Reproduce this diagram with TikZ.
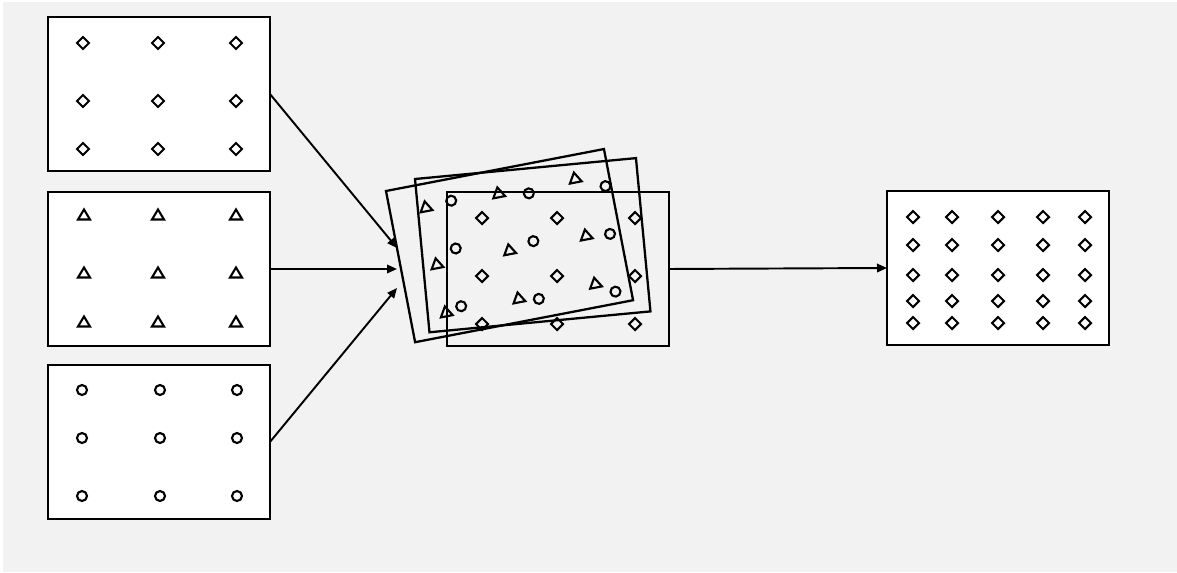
\documentclass[tikz,border=0pt]{standalone}
\usetikzlibrary{arrows.meta}
\definecolor{bg}{HTML}{F2F2F2}
\begin{document}
\begin{tikzpicture}[x=0.02cm, y=-0.02cm,
        panel/.style={draw, line width=1.3pt, minimum width=4.44cm, minimum height=3.08cm, inner sep=0pt, outer sep=0pt, anchor=north west},
        sym/.style={line width=1.2pt},
        arr/.style={-{Triangle[length=2mm,width=1.7mm]}, line width=1.1pt},
        dia/.pic={\draw[sym] (-6,0) -- (0,-6) -- (6,0) -- (0,6) -- cycle;},
        tri/.pic={\draw[sym] (-6,4.5) -- (6,4.5) -- (0,-5.5) -- cycle;},
        ring/.pic={\draw[sym] (0,0) circle[radius=5];}]
        \useasboundingbox (0,0) rectangle (1177,572);
        \fill[bg] (3,2) rectangle (1177,572);
        % the three inputs
        \begin{scope}[shift={(48,17)}]
            \node[panel, fill=white] (dias) at (0,0) {};
            \foreach \x in {35,110,188} \foreach \y in {26,84,132} \pic at (\x,\y) {dia};
        \end{scope}
        \begin{scope}[shift={(48,192)}]
            \node[panel, fill=white] (tris) at (0,0) {};
            \foreach \x in {36,110,188} \foreach \y in {23,81,130} \pic at (\x,\y) {tri};
        \end{scope}
        \begin{scope}[shift={(48,365)}]
            \node[panel, fill=white] (rings) at (0,0) {};
            \foreach \x in {34,112,189} \foreach \y in {25,73,131} \pic at (\x,\y) {ring};
        \end{scope}
        % stacked copies
        \begin{scope}[shift={(386,191)}, rotate=10.9, transform shape]
            \node[panel] (tris2) at (0,0) {};
            \foreach \x in {36,110,188} \foreach \y in {23,81,130} \pic at (\x,\y) {tri};
        \end{scope}
        \begin{scope}[shift={(415,179)}, rotate=5.4, transform shape]
            \node[panel] (rings2) at (0,0) {};
            \foreach \x in {34,112,189} \foreach \y in {25,73,131} \pic at (\x,\y) {ring};
        \end{scope}
        \begin{scope}[shift={(447,192)}]
            \node[panel] (mix) at (0,0) {};
            \foreach \x in {35,110,188} \foreach \y in {26,84,132} \pic at (\x,\y) {dia};
        \end{scope}
        % result
        \begin{scope}[shift={(887,191)}]
            \node[panel, fill=white] (out) at (0,0) {};
            \foreach \x in {26,65,111,156,198} \foreach \y in {26,54,84,110,132} \pic at (\x,\y) {dia};
        \end{scope}
        \coordinate (in1) at (397,248);
        \coordinate (in2) at (397,269);
        \coordinate (in3) at (397,288);
        \draw[arr] (dias.east) -- (in1);
        \draw[arr] (tris.east) -- (in2);
        \draw[arr] (rings.east) -- (in3);
        \draw[arr] (mix.east) -- (out.west);
    \end{tikzpicture}
\end{document}
